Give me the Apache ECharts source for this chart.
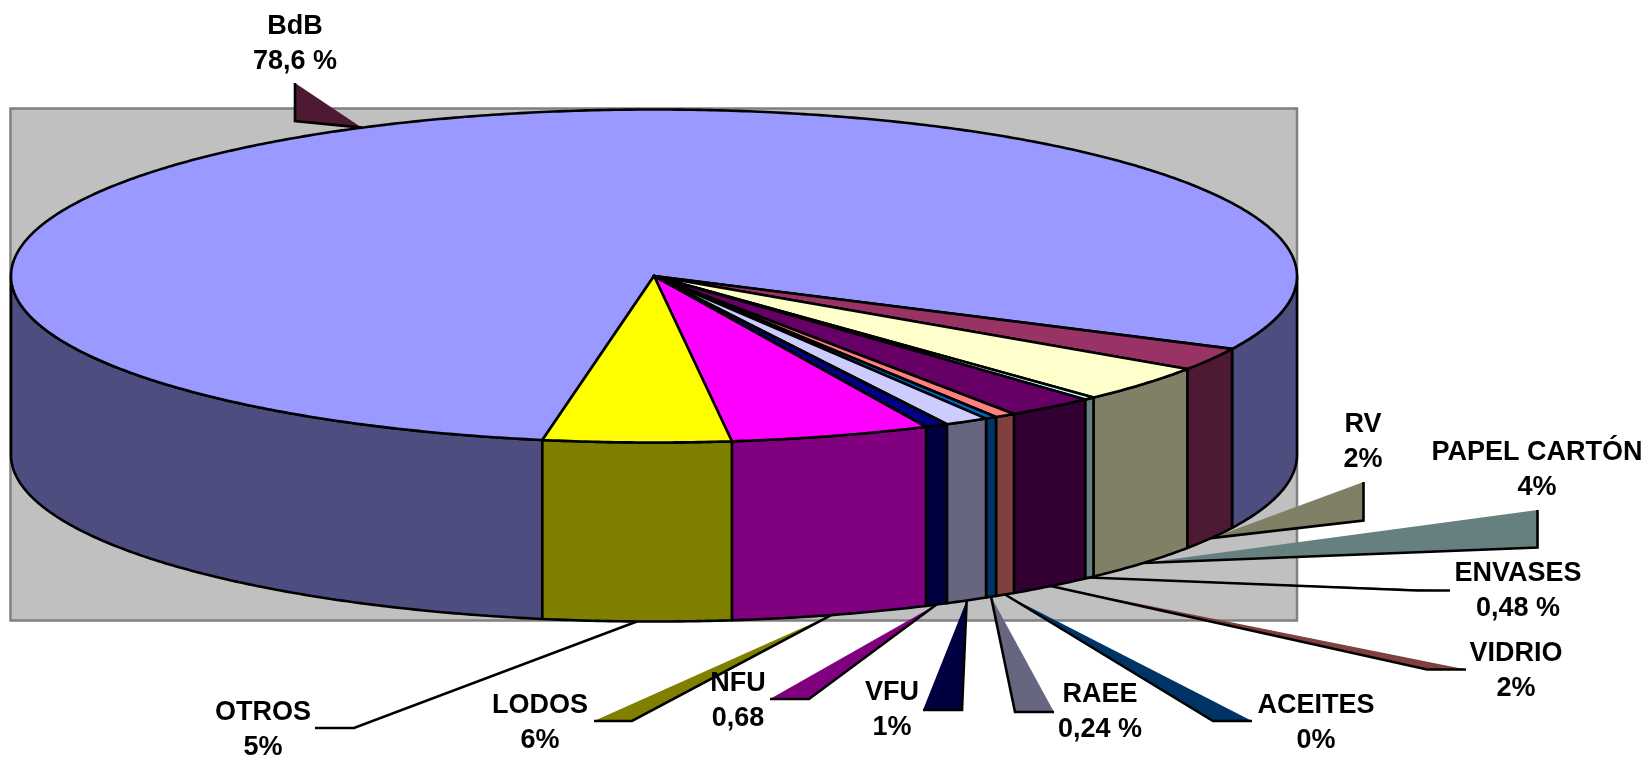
<!DOCTYPE html>
<html><head><meta charset="utf-8">
<style>html,body{margin:0;padding:0;background:#fff}#c{width:1651px;height:758px}</style>
<script src="https://cdn.jsdelivr.net/npm/echarts@6/dist/echarts.min.js"></script>
</head><body><div id="c"></div>
<script>
// Data
const sliceNames = ['BdB','RV','PAPEL CARTÓN','ENVASES','VIDRIO','ACEITES','RAEE','VFU','NFU','LODOS','OTROS'];
const sliceShares = [79.44,2.22,3.59,0.28,2.24,0.53,0.29,1.11,0.575,5.02,4.71];
const valueLabels = ['78,6 %','2%','4%','0,48 %','2%','0%','0,24 %','1%','0,68','6%','5%'];

// Styles
const topColors  = ['#9999FF','#993366','#FFFFCC','#CCFFFF','#660066','#FF8080','#0066CC','#CCCCFF','#000080','#FF00FF','#FFFF00'];
const sideColors = ['#4D4D80','#4D1933','#808066','#668080','#330033','#804040','#003366','#666680','#000040','#800080','#808000'];
const leaderColors = ['#4D1933','#808066','#668080','#330033','#804040','#003366','#666680','#000040','#800080','#808000','none'];

// Layout
const PIE = {cx:654, cy:276, rx:643, ry:166.5, depth:179, firstAngle:100};
const PLOT = {x:10.5, y:108.5, w:1286.5, h:512};
const labelCenters = [[295,27],[1363,425],[1537,453],[1518,574],[1516,654],[1316,706],[1100,695],[892,693],[738,684],[540,706],[263,713]];
const LINE_GAP = 35;
const leaderEnds = [
  [[295,121],[295,83]],
  [[1363.5,520.5],[1363.5,482]],
  [[1537.5,547.5],[1537.5,510]],
  [[1417,590.5],[1450,590.5]],
  [[1427,669.5],[1466,669.5]],
  [[1213,721],[1252,721]],
  [[1015,712],[1054,712]],
  [[962,710],[923,710]],
  [[809,699],[770,699]],
  [[632,721],[594,721]],
  [[354,728],[315,728]]
];
const OUTLINE = 2.6;

const total = sliceShares.reduce((a,b)=>a+b,0);
const spans = [];
let acc = PIE.firstAngle;
sliceShares.forEach(v=>{const s=v/total*360;spans.push([acc,acc+s]);acc+=s;});

const rad = d=>d*Math.PI/180;
const rim = (t,dz)=>[PIE.cx+PIE.rx*Math.cos(rad(t)), PIE.cy+PIE.ry*Math.sin(rad(t))+(dz||0)];
function arc(a,b,dz){const n=Math.max(2,Math.ceil(Math.abs(b-a)*2));const p=[];for(let i=0;i<=n;i++)p.push(rim(a+(b-a)*i/n,dz));return p;}

function sidePart(a,b,fill){
  return {type:'polygon',shape:{points:arc(a,b,0).concat(arc(b,a,PIE.depth))},
    style:{fill:fill,stroke:'#000',lineWidth:OUTLINE,lineJoin:'round'}};
}
const renderSide=(p,api)=>{
  const i=api.value(0),[a,b]=spans[i],kids=[];
  for(const [lo,hi] of [[0,180],[360,540]]){
    const s=Math.max(a,lo),e=Math.min(b,hi);
    if(e>s)kids.push(sidePart(s,e,sideColors[i]));
  }
  return {type:'group',children:kids};
};
const renderTop=(p,api)=>{
  const i=api.value(0),[a,b]=spans[i];
  return {type:'polygon',shape:{points:[[PIE.cx,PIE.cy]].concat(arc(a,b,0))},
    style:{fill:topColors[i],stroke:'#000',lineWidth:OUTLINE,lineJoin:'round'}};
};
const renderLeader=(p,api)=>{
  const i=api.value(0),[a,b]=spans[i],mid=(a+b)/2;
  const tip=rim(mid,Math.sin(rad(mid))>0?PIE.depth:0);
  const [m,e]=leaderEnds[i];
  return {type:'group',children:[
    {type:'polygon',shape:{points:[tip,m,e]},style:{fill:leaderColors[i]}},
    {type:'polyline',shape:{points:[tip,m,e]},style:{fill:'none',stroke:'#000',lineWidth:OUTLINE}}
  ]};
};
const renderLabel=(p,api)=>{
  const i=api.value(0),[x,y]=labelCenters[i];
  const font='bold 27px "Liberation Sans", Arial, sans-serif';
  const t=(txt,yy)=>({type:'text',style:{text:txt,x:x,y:yy,align:'center',verticalAlign:'middle',font:font,fill:'#000'}});
  return {type:'group',children:[t(sliceNames[i],y),t(valueLabels[i],y+LINE_GAP)]};
};

const rows = sliceNames.map((n,i)=>({name:n,value:[i,sliceShares[i]]}));
const mk=(fn,z)=>({type:'custom',coordinateSystem:'none',renderItem:fn,data:rows,z:z,silent:true,animation:false,clip:false});

const chart = echarts.init(document.getElementById('c'),null,{renderer:'canvas'});
chart.setOption({
  backgroundColor:'#fff',
  animation:false,
  graphic:[{type:'rect',z:0,shape:{x:PLOT.x,y:PLOT.y,width:PLOT.w,height:PLOT.h},style:{fill:'#C0C0C0',stroke:'#808080',lineWidth:2.5}}],
  series:[mk(renderLeader,2),mk(renderSide,3),mk(renderTop,4),mk(renderLabel,5)]
});
</script></body></html>
